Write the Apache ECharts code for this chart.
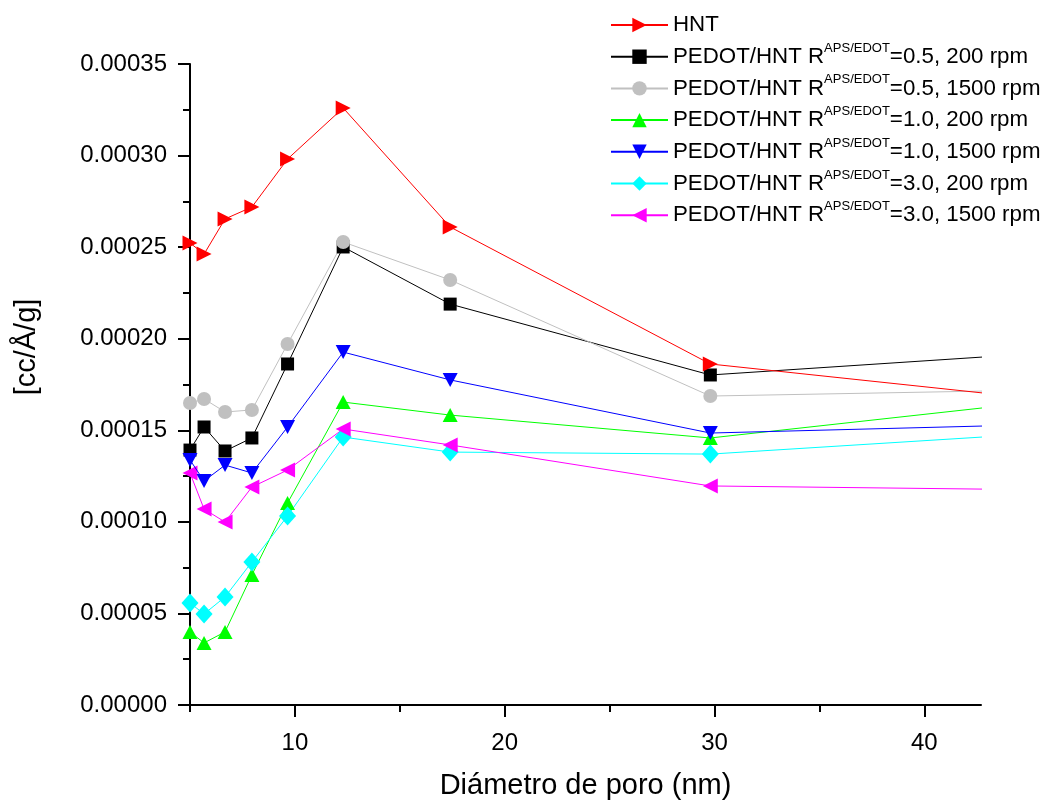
<!DOCTYPE html>
<html><head><meta charset="utf-8">
<script src="https://cdn.jsdelivr.net/npm/echarts@6/dist/echarts.min.js"></script>
<style>html,body{margin:0;padding:0;background:#fff}#c{width:1049px;height:802px}</style>
</head><body><div id="c"></div>
<script>
// Pore diameter (nm)
const poreDiameter = [5.0, 5.67, 6.67, 7.95, 9.65, 12.3, 17.4, 29.8, 60];
// Series values [cc/Å/g]
const hnt      = [0.0002523, 0.0002462, 0.0002654, 0.0002719, 0.0002981, 0.0003260, 0.0002610, 0.0001862, 0.0001494];
const r05_200  = [0.0001392, 0.0001518, 0.0001387, 0.0001458, 0.0001862, 0.0002501, 0.0002189, 0.0001802, 0.0002030];
const r05_1500 = [0.0001649, 0.0001671, 0.0001600, 0.0001611, 0.0001971, 0.0002528, 0.0002321, 0.0001687, 0.0001750];
const r10_200  = [0.0000399, 0.0000339, 0.0000399, 0.0000710, 0.0001103, 0.0001654, 0.0001583, 0.0001458, 0.0001840];
const r10_1500 = [0.0001338, 0.0001223, 0.0001310, 0.0001267, 0.0001518, 0.0001927, 0.0001775, 0.0001485, 0.0001574];
const r30_200  = [0.0000557, 0.0000497, 0.0000590, 0.0000781, 0.0001032, 0.0001463, 0.0001381, 0.0001370, 0.0001587];
const r30_1500 = [0.0001267, 0.0001070, 0.0000999, 0.0001190, 0.0001283, 0.0001507, 0.0001420, 0.0001196, 0.0001156];

const seriesNames = ['HNT', 'R05_200', 'R05_1500', 'R10_200', 'R10_1500', 'R30_200', 'R30_1500'];
const legendLabels = [
  ['HNT', '', ''],
  ['PEDOT/HNT R', 'APS/EDOT', '=0.5, 200 rpm'],
  ['PEDOT/HNT R', 'APS/EDOT', '=0.5, 1500 rpm'],
  ['PEDOT/HNT R', 'APS/EDOT', '=1.0, 200 rpm'],
  ['PEDOT/HNT R', 'APS/EDOT', '=1.0, 1500 rpm'],
  ['PEDOT/HNT R', 'APS/EDOT', '=3.0, 200 rpm'],
  ['PEDOT/HNT R', 'APS/EDOT', '=3.0, 1500 rpm']
];
const xMajorTicks = [10, 20, 30, 40];
const xMinorTicks = [5, 15, 25, 35];
const xTitle = 'Diámetro de poro (nm)';
const yTitle = '[cc/Å/g]';

const FONT = 'Liberation Sans, Arial, Helvetica, sans-serif';
const values = [hnt, r05_200, r05_1500, r10_200, r10_1500, r30_200, r30_1500];
const colors = ['#FF0000', '#000000', '#C0C0C0', '#00FF00', '#0000FF', '#00FFFF', '#FF00FF'];
const symbols = ['triangle', 'rect', 'circle', 'triangle', 'triangle', 'diamond', 'triangle'];
const rotations = [-90, 0, 0, 0, 180, 0, 90];
const sizes = [[15, 15], 13, 14, [15, 14], [15, 14], [17, 19], [15, 15]];
const zs = [5, 2, 2, 2, 3, 2, 2];

const chart = echarts.init(document.getElementById('c'), null, {renderer: 'canvas'});
const grid = {left: 190, right: 68, top: 64, bottom: 97, outerBoundsMode: 'none', containLabel: false};

const series = seriesNames.map((n, i) => ({
  name: n,
  type: 'line',
  xAxisIndex: 0,
  data: poreDiameter.map((x, k) => [x, values[i][k]]),
  symbol: symbols[i],
  symbolSize: sizes[i],
  symbolRotate: rotations[i],
  clip: true,
  z: zs[i],
  lineStyle: {color: colors[i], width: 1},
  itemStyle: {color: colors[i], borderWidth: 0},
  emphasis: {disabled: true},
  animation: false
}));

chart.setOption({
  animation: false,
  grid: grid,
  legend: {
    orient: 'vertical',
    left: 610,
    top: 14,
    padding: 0,
    align: 'left',
    itemWidth: 57,
    itemHeight: 18,
    itemGap: 5.7,
    data: seriesNames,
    selectedMode: false,
    formatter: function (name) {
      const l = legendLabels[seriesNames.indexOf(name)];
      if (!l[1]) return '{a|' + l[0] + '}';
      return '{a|' + l[0] + '}{s|' + l[1] + '}{a|' + l[2] + '}';
    },
    textStyle: {
      color: '#000',
      rich: {
        a: {fontSize: 22.3, fontFamily: FONT, color: '#000', lineHeight: 30},
        s: {fontSize: 13, fontFamily: FONT, color: '#000', lineHeight: 13, verticalAlign: 'top'}
      }
    }
  },
  xAxis: [{
    type: 'value', min: 5, max: 42.7,
    splitLine: {show: false},
    axisLine: {show: true, onZero: false, lineStyle: {color: '#000', width: 2}},
    axisTick: {show: true, length: 12, lineStyle: {color: '#000', width: 2}, customValues: xMajorTicks},
    axisLabel: {customValues: xMajorTicks, fontSize: 24, fontFamily: FONT, color: '#000', margin: 26},
    name: xTitle, nameLocation: 'middle', nameGap: 66,
    nameTextStyle: {fontSize: 29, fontFamily: FONT, color: '#000'}
  }, {
    type: 'value', min: 5, max: 42.7, position: 'bottom',
    splitLine: {show: false},
    axisLine: {show: false},
    axisTick: {show: true, length: 7, lineStyle: {color: '#000', width: 2}, customValues: xMinorTicks},
    axisLabel: {show: false}
  }],
  yAxis: {
    type: 'value', min: 0, max: 0.00035, interval: 0.00005,
    splitLine: {show: false},
    axisLine: {show: true, lineStyle: {color: '#000', width: 2}},
    axisTick: {show: true, length: 12, lineStyle: {color: '#000', width: 2}},
    minorTick: {show: true, splitNumber: 2, length: 7, lineStyle: {color: '#000', width: 2}},
    axisLabel: {fontSize: 24, fontFamily: FONT, color: '#000', margin: 23,
      formatter: v => v.toFixed(5)}
  },
  graphic: [{
    type: 'text',
    x: 27, y: 347,
    rotation: Math.PI / 2,
    style: {text: yTitle, fontSize: 29, fontFamily: FONT, fill: '#000', align: 'center', verticalAlign: 'middle'}
  }],
  series: series
});
</script>
</body></html>
